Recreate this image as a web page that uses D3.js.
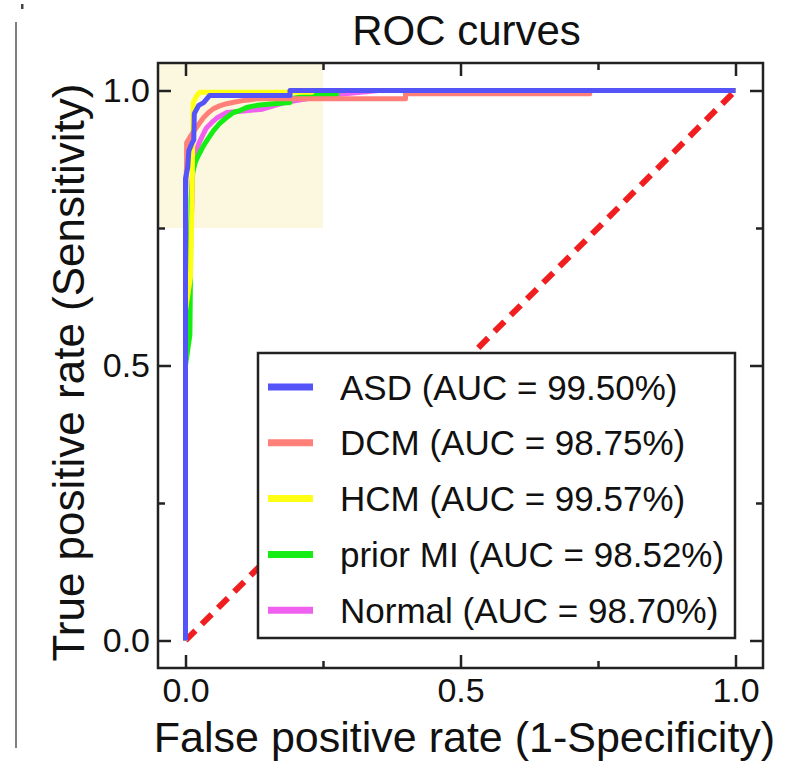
<!DOCTYPE html>
<html>
<head>
<meta charset="utf-8">
<script src="https://cdn.jsdelivr.net/npm/d3@7"></script>
<style>
  html, body { margin: 0; padding: 0; background: #fff; }
  svg { display: block; font-family: "Liberation Sans", Arial, sans-serif; }
</style>
</head>
<body>
<svg id="chart" width="802" height="761"></svg>
<script>
// ---------------- data ----------------
const seriesNames = ["ASD", "DCM", "HCM", "prior MI", "Normal"];
const aucLabels = ["99.50%", "98.75%", "99.57%", "98.52%", "98.70%"];
const seriesColors = ["#5454f8", "#ff8078", "#ffff14", "#14ee14", "#f060ee"];

const asdFpr = [0, 0, 0.004, 0.006, 0.012, 0.015, 0.016, 0.024, 0.033, 0.044, 0.19, 0.19, 1];
const asdTpr = [0, 0.84, 0.86, 0.89, 0.905, 0.91, 0.958, 0.973, 0.978, 0.991, 0.991, 1.0, 1];

const dcmFpr = [0, 0, 0.002, 0.002, 0.008, 0.016, 0.025, 0.033, 0.042, 0.051, 0.062, 0.075, 0.09, 0.106, 0.13, 0.40, 0.40, 0.735, 0.735, 1];
const dcmTpr = [0, 0.80, 0.87, 0.905, 0.915, 0.927, 0.94, 0.951, 0.96, 0.967, 0.972, 0.976, 0.979, 0.982, 0.985, 0.985, 0.994, 0.994, 1.0, 1];

const hcmFpr = [0, 0, 0.009, 0.012, 0.013, 0.014, 0.02, 0.026, 0.23, 0.23, 1];
const hcmTpr = [0, 0.60, 0.66, 0.80, 0.90, 0.978, 0.99, 0.997, 0.997, 1.0, 1];

const miFpr = [0, 0, 0.008, 0.009, 0.01, 0.013, 0.018, 0.025, 0.033, 0.042, 0.051, 0.062, 0.075, 0.087, 0.10, 0.111, 0.13, 0.16, 0.19, 0.19, 0.24, 0.275, 0.275, 1];
const miTpr = [0, 0.50, 0.556, 0.66, 0.80, 0.85, 0.87, 0.885, 0.90, 0.914, 0.927, 0.94, 0.951, 0.96, 0.964, 0.969, 0.973, 0.976, 0.978, 0.985, 0.993, 0.993, 1.0, 1];

const normalFpr = [0, 0, 0.008, 0.012, 0.013, 0.016, 0.024, 0.031, 0.038, 0.048, 0.057, 0.075, 0.11, 0.14, 0.18, 0.25, 0.35, 1];
const normalTpr = [0, 0.60, 0.71, 0.80, 0.85, 0.88, 0.903, 0.918, 0.932, 0.942, 0.95, 0.96, 0.963, 0.966, 0.978, 0.99, 1.0, 1];

const majorTicks = [0, 0.5, 1.0];
const minorTicks = [0.25, 0.75];
const axisDomain = [-0.05, 1.05];
const zoomBoxX = [-0.05, 0.25];
const zoomBoxY = [0.75, 1.05];
const chanceFpr = [0, 1];
const chanceTpr = [0, 1];

const titleText = "ROC curves";
const xLabelText = "False positive rate (1-Specificity)";
const yLabelText = "True positive rate (Sensitivity)";

// ---------------- layout ----------------
const L = 158, R = 763, T = 63, B = 668;
const svg = d3.select("#chart");
const x = d3.scaleLinear().domain(axisDomain).range([L, R]);
const y = d3.scaleLinear().domain(axisDomain).range([B, T]);

svg.append("rect").attr("width", 802).attr("height", 761).attr("fill", "#fff");

// stray crop marks at the left edge
svg.append("line").attr("x1", 16).attr("x2", 16).attr("y1", 22).attr("y2", 748)
  .attr("stroke", "#555").attr("stroke-width", 1.5);
svg.append("rect").attr("x", 21).attr("y", 4).attr("width", 2.5).attr("height", 5).attr("fill", "#444");

// highlight box
svg.append("rect")
  .attr("x", x(zoomBoxX[0])).attr("y", y(zoomBoxY[1]))
  .attr("width", x(zoomBoxX[1]) - x(zoomBoxX[0]))
  .attr("height", y(zoomBoxY[0]) - y(zoomBoxY[1]))
  .attr("fill", "#fcf8e0");

// chance diagonal
svg.append("line")
  .attr("x1", x(chanceFpr[0])).attr("y1", y(chanceTpr[0]))
  .attr("x2", x(chanceFpr[1])).attr("y2", y(chanceTpr[1]))
  .attr("stroke", "#f01e1e").attr("stroke-width", 6)
  .attr("stroke-dasharray", "14,9");

// curves
const curves = [
  { fpr: asdFpr, tpr: asdTpr },
  { fpr: dcmFpr, tpr: dcmTpr },
  { fpr: hcmFpr, tpr: hcmTpr },
  { fpr: miFpr, tpr: miTpr },
  { fpr: normalFpr, tpr: normalTpr }
];
const line = d3.line().x(d => x(d[0])).y(d => y(d[1]));
const drawOrder = [4, 3, 2, 1, 0];
drawOrder.forEach(i => {
  const pts = curves[i].fpr.map((f, k) => [f, curves[i].tpr[k]]);
  svg.append("path").datum(pts)
    .attr("d", line)
    .attr("fill", "none")
    .attr("stroke", seriesColors[i])
    .attr("stroke-width", 5)
    .attr("stroke-linejoin", "round");
});

// legend
const lg = svg.append("g");
lg.append("rect").attr("x", 258).attr("y", 353).attr("width", 477).attr("height", 285)
  .attr("fill", "#fff").attr("stroke", "#222").attr("stroke-width", 2.5);
seriesNames.forEach((n, i) => {
  const cy = 387 + i * 55.8;
  lg.append("line").attr("x1", 268).attr("x2", 313).attr("y1", cy).attr("y2", cy)
    .attr("stroke", seriesColors[i]).attr("stroke-width", 7);
  lg.append("text").attr("x", 340).attr("y", cy).attr("dy", "0.36em")
    .attr("font-size", 35).attr("fill", "#111")
    .text(`${n} (AUC = ${aucLabels[i]})`);
});

// axes (ticks inward)
const fmt = d3.format(".1f");
function styleAxis(g) {
  g.select(".domain").remove();
  g.selectAll(".tick line").attr("stroke", "#222").attr("stroke-width", 2.5);
  g.selectAll(".tick text").attr("font-size", 34).attr("fill", "#111")
    .attr("font-family", "Liberation Sans, Arial, sans-serif");
}
svg.append("g").attr("transform", `translate(0,${B})`)
  .call(d3.axisBottom(x).tickValues(majorTicks).tickFormat(fmt).tickSize(-13).tickPadding(10)).call(styleAxis);
svg.append("g").attr("transform", `translate(0,${B})`)
  .call(d3.axisBottom(x).tickValues(minorTicks).tickFormat("").tickSize(-7)).call(styleAxis);
svg.append("g").attr("transform", `translate(0,${T})`)
  .call(d3.axisTop(x).tickValues(majorTicks).tickFormat("").tickSize(-13)).call(styleAxis);
svg.append("g").attr("transform", `translate(0,${T})`)
  .call(d3.axisTop(x).tickValues(minorTicks).tickFormat("").tickSize(-7)).call(styleAxis);
svg.append("g").attr("transform", `translate(${L},0)`)
  .call(d3.axisLeft(y).tickValues(majorTicks).tickFormat(fmt).tickSize(-13).tickPadding(8)).call(styleAxis);
svg.append("g").attr("transform", `translate(${L},0)`)
  .call(d3.axisLeft(y).tickValues(minorTicks).tickFormat("").tickSize(-7)).call(styleAxis);
svg.append("g").attr("transform", `translate(${R},0)`)
  .call(d3.axisRight(y).tickValues(majorTicks).tickFormat("").tickSize(-13)).call(styleAxis);
svg.append("g").attr("transform", `translate(${R},0)`)
  .call(d3.axisRight(y).tickValues(minorTicks).tickFormat("").tickSize(-7)).call(styleAxis);

// frame
svg.append("rect").attr("x", L).attr("y", T).attr("width", R - L).attr("height", B - T)
  .attr("fill", "none").attr("stroke", "#222").attr("stroke-width", 2.5);

// titles
svg.append("text").attr("x", (L + R) / 2 + 6).attr("y", 45).attr("text-anchor", "middle")
  .attr("font-size", 42).attr("fill", "#111").text(titleText);
svg.append("text").attr("x", (L + R) / 2 + 4).attr("y", 752).attr("text-anchor", "middle")
  .attr("font-size", 43).attr("fill", "#111").text(xLabelText);
svg.append("text").attr("transform", `translate(84,${(T + B) / 2 + 7}) rotate(-90)`)
  .attr("text-anchor", "middle").attr("font-size", 44).attr("fill", "#111").text(yLabelText);
</script>
</body>
</html>
